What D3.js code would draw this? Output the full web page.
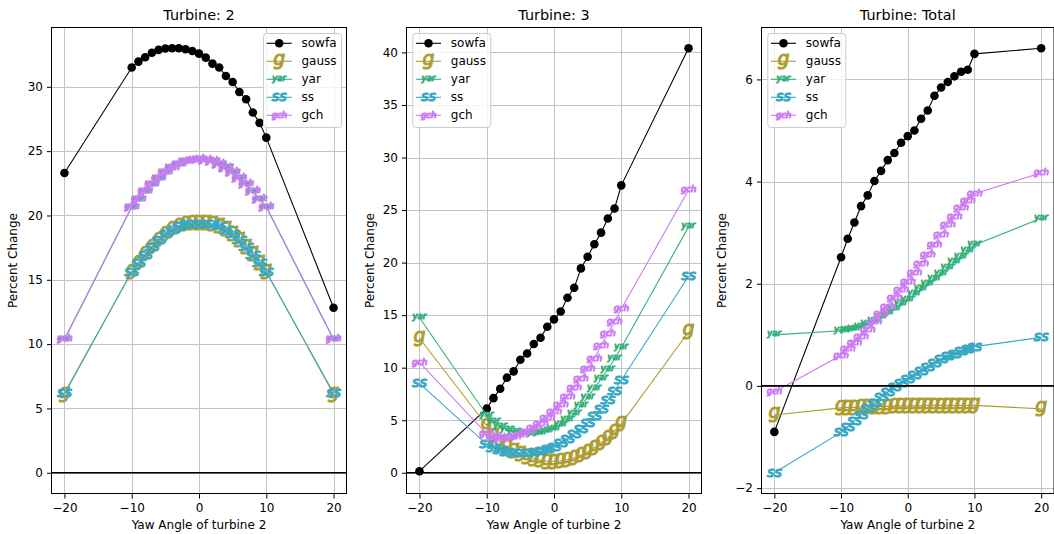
<!DOCTYPE html>
<html><head><meta charset="utf-8">
<script src="https://cdn.jsdelivr.net/npm/d3@7"></script>
<style>
body{margin:0;background:#fff;}
svg{display:block;font-family:"DejaVu Sans",sans-serif;}
</style></head><body>
<svg id="chart" width="1054" height="534"></svg>
<script>
// ---------- data ----------
const yawAngles = [-20, -10, -9, -8, -7, -6, -5, -4, -3, -2, -1, 0, 1, 2, 3, 4, 5, 6, 7, 8, 9, 10, 20];
const seriesNames = ["sowfa", "gauss", "yar", "ss", "gch"];
const markerGlyphs = {gauss: "g", yar: "yar", ss: "ss", gch: "gch"};
const seriesColors = {sowfa: "#000000", gauss: "#ae9d31", yar: "#33b07a", ss: "#38a9c5", gch: "#cc7af4"};

const turbine2Sowfa = [23.3, 31.5, 31.96, 32.3, 32.65, 32.87, 32.98, 33.0, 33.0, 32.92, 32.79, 32.58, 32.27, 31.8, 31.5, 30.84, 30.37, 29.6, 29.03, 28.0, 27.2, 26.05, 12.83];
const turbine2Gauss = [6.1, 15.65, 16.35, 17.0, 17.6, 18.15, 18.6, 18.95, 19.2, 19.35, 19.45, 19.45, 19.45, 19.35, 19.2, 18.95, 18.6, 18.15, 17.6, 17.0, 16.35, 15.65, 6.1];
const turbine2Yar = [10.35, 20.65, 21.25, 21.85, 22.4, 22.9, 23.35, 23.7, 24.0, 24.2, 24.3, 24.35, 24.3, 24.2, 24.0, 23.7, 23.35, 22.9, 22.4, 21.85, 21.25, 20.65, 10.35];
const turbine2Ss = [6.2, 15.6, 16.3, 16.95, 17.55, 18.1, 18.55, 18.9, 19.15, 19.3, 19.35, 19.35, 19.35, 19.3, 19.15, 18.9, 18.55, 18.1, 17.55, 16.95, 16.3, 15.6, 6.2];
const turbine2Gch = [10.4, 20.7, 21.3, 21.9, 22.45, 22.95, 23.4, 23.75, 24.05, 24.25, 24.35, 24.4, 24.35, 24.25, 24.05, 23.75, 23.4, 22.95, 22.45, 21.9, 21.3, 20.7, 10.4];

const turbine3Sowfa = [0.15, 6.1, 7.1, 8.0, 9.05, 9.65, 10.75, 11.35, 12.25, 12.85, 13.9, 14.6, 15.35, 16.65, 17.6, 19.45, 20.55, 21.75, 22.85, 24.2, 25.15, 27.35, 40.4];
const turbine3Gauss = [12.8, 4.5, 3.55, 2.9, 2.45, 2.1, 1.8, 1.55, 1.35, 1.2, 1.1, 1.1, 1.15, 1.25, 1.45, 1.7, 2.0, 2.4, 2.85, 3.35, 3.95, 4.65, 13.4];
const turbine3Yar = [14.75, 5.5, 4.9, 4.45, 4.1, 3.9, 3.75, 3.7, 3.7, 3.8, 4.0, 4.25, 4.6, 5.05, 5.65, 6.4, 7.2, 8.05, 8.95, 9.85, 10.85, 11.9, 23.4];
const turbine3Ss = [8.5, 2.7, 2.4, 2.15, 2.0, 1.9, 1.9, 1.9, 1.95, 2.05, 2.25, 2.5, 2.8, 3.2, 3.65, 4.15, 4.75, 5.4, 6.1, 6.9, 7.8, 8.8, 18.7];
const turbine3Gch = [10.5, 3.7, 3.4, 3.3, 3.3, 3.4, 3.6, 3.9, 4.3, 4.7, 5.2, 5.8, 6.45, 7.25, 8.1, 9.0, 9.9, 10.9, 12.1, 13.25, 14.4, 15.6, 26.9];

const totalSowfa = [-0.9, 2.52, 2.88, 3.2, 3.52, 3.73, 4.01, 4.21, 4.42, 4.56, 4.76, 4.89, 5.0, 5.23, 5.39, 5.68, 5.84, 5.95, 6.06, 6.15, 6.19, 6.5, 6.61];
const totalGauss = [-0.57, -0.43, -0.42, -0.42, -0.41, -0.41, -0.4, -0.4, -0.4, -0.39, -0.39, -0.39, -0.39, -0.39, -0.38, -0.38, -0.38, -0.38, -0.38, -0.38, -0.38, -0.38, -0.45];
const totalYar = [1.0, 1.08, 1.1, 1.13, 1.17, 1.22, 1.28, 1.35, 1.43, 1.52, 1.61, 1.7, 1.8, 1.9, 2.0, 2.1, 2.21, 2.32, 2.43, 2.54, 2.65, 2.76, 3.28];
const totalSs = [-1.7, -0.91, -0.8, -0.68, -0.56, -0.44, -0.33, -0.22, -0.12, -0.02, 0.06, 0.14, 0.22, 0.3, 0.38, 0.45, 0.52, 0.58, 0.63, 0.68, 0.73, 0.77, 0.95];
const totalGch = [-0.12, 0.6, 0.72, 0.84, 0.97, 1.1, 1.26, 1.41, 1.56, 1.72, 1.88, 2.04, 2.22, 2.39, 2.56, 2.76, 2.97, 3.15, 3.32, 3.48, 3.63, 3.76, 4.17];

const panelTitles = ["Turbine: 2", "Turbine: 3", "Turbine: Total"];
const xTickValues = [-20, -10, 0, 10, 20];
const turbine2YTicks = [0, 5, 10, 15, 20, 25, 30];
const turbine3YTicks = [0, 5, 10, 15, 20, 25, 30, 35, 40];
const totalYTicks = [-2, 0, 2, 4, 6];
const xAxisLabel = "Yaw Angle of turbine 2";
const yAxisLabel = "Percent Change";

// ---------- layout ----------
const svg = d3.select("#chart");
const TOP = 27, BOTTOM = 494;
const MARKER_SIZE = 14.5;

const panels = [
  {title: panelTitles[0], left: 51, width: 296, yTicks: turbine2YTicks, legend: "right",
   series: {sowfa: turbine2Sowfa, gauss: turbine2Gauss, yar: turbine2Yar, ss: turbine2Ss, gch: turbine2Gch}},
  {title: panelTitles[1], left: 406, width: 296, yTicks: turbine3YTicks, legend: "left",
   series: {sowfa: turbine3Sowfa, gauss: turbine3Gauss, yar: turbine3Yar, ss: turbine3Ss, gch: turbine3Gch}},
  {title: panelTitles[2], left: 761, width: 293.5, yTicks: totalYTicks, legend: "left",
   series: {sowfa: totalSowfa, gauss: totalGauss, yar: totalYar, ss: totalSs, gch: totalGch}}
];

// glyph metrics for text markers (matplotlib style: max ink dimension = marker size, centred on point)
const ctx = document.createElement("canvas").getContext("2d");
ctx.font = "italic 100px 'DejaVu Sans'";
const glyphInfo = {};
Object.entries(markerGlyphs).forEach(([k, s]) => {
  const m = ctx.measureText(s);
  const w = m.actualBoundingBoxLeft + m.actualBoundingBoxRight;
  const h = m.actualBoundingBoxAscent + m.actualBoundingBoxDescent;
  const size = MARKER_SIZE / Math.max(w, h) * 100;
  const f = size / 100;
  glyphInfo[k] = {text: s, size,
    dx: -((m.actualBoundingBoxRight - m.actualBoundingBoxLeft) / 2) * f,
    dy: ((m.actualBoundingBoxAscent - m.actualBoundingBoxDescent) / 2) * f};
});

function drawMarker(g, name, px, py) {
  if (name === "sowfa") {
    g.append("circle").attr("cx", px).attr("cy", py).attr("r", 4.3).attr("fill", "#000");
  } else {
    const gi = glyphInfo[name];
    g.append("text").attr("x", px + gi.dx).attr("y", py + gi.dy)
      .attr("font-size", gi.size).attr("font-style", "italic")
      .attr("font-family", "'DejaVu Sans'")
      .attr("fill", seriesColors[name]).attr("stroke", seriesColors[name])
      .attr("stroke-width", 1.1).attr("stroke-linejoin", "round").text(gi.text);
  }
}

const fmt = d3.format("d");

panels.forEach((p, i) => {
  const allVals = [0].concat(...seriesNames.map(n => p.series[n]));
  const [lo, hi] = d3.extent(allVals);
  const pad = (hi - lo) * 0.05;
  const x = d3.scaleLinear().domain([-22, 22]).range([p.left, p.left + p.width]);
  const y = d3.scaleLinear().domain([lo - pad, hi + pad]).range([BOTTOM, TOP]);
  const g = svg.append("g");

  const clipId = "clip" + i;
  svg.append("clipPath").attr("id", clipId).append("rect")
    .attr("x", p.left).attr("y", TOP).attr("width", p.width).attr("height", BOTTOM - TOP);

  // grid
  const grid = g.append("g").attr("stroke", "#c4c4c4").attr("stroke-width", 1);
  xTickValues.forEach(v => {
    const xx = Math.round(x(v)) + 0.5;
    grid.append("line").attr("x1", xx).attr("x2", xx).attr("y1", TOP).attr("y2", BOTTOM);
  });
  p.yTicks.forEach(v => {
    const yy = Math.round(y(v)) + 0.5;
    grid.append("line").attr("x1", p.left).attr("x2", p.left + p.width).attr("y1", yy).attr("y2", yy);
  });

  // data
  const plot = g.append("g").attr("clip-path", `url(#${clipId})`);
  const line = d3.line().x((d, j) => x(yawAngles[j])).y(d => y(d));
  seriesNames.forEach(n => {
    const vals = p.series[n];
    const sg = plot.append("g");
    sg.append("path").attr("d", line(vals)).attr("fill", "none")
      .attr("stroke", seriesColors[n]).attr("stroke-width", 1.1);
    vals.forEach((v, j) => drawMarker(sg, n, x(yawAngles[j]), y(v)));
  });
  // zero line
  plot.append("line").attr("x1", p.left).attr("x2", p.left + p.width)
    .attr("y1", y(0)).attr("y2", y(0)).attr("stroke", "#000").attr("stroke-width", 1.6);

  // axes
  const xAxis = d3.axisBottom(x).tickValues(xTickValues).tickSizeInner(4.5).tickSizeOuter(0).tickPadding(4.5).tickFormat(fmt);
  const xa = g.append("g").attr("transform", `translate(0,${BOTTOM})`).call(xAxis);
  const yAxis = d3.axisLeft(y).tickValues(p.yTicks).tickSizeInner(4).tickSizeOuter(0).tickPadding(4).tickFormat(fmt);
  const ya = g.append("g").attr("transform", `translate(${p.left},0)`).call(yAxis);
  [xa, ya].forEach(a => {
    a.select(".domain").remove();
    a.selectAll("text").attr("font-size", 12).attr("font-family", "'DejaVu Sans'").attr("fill", "#000");
    a.selectAll("line").attr("stroke", "#000");
  });

  // spines
  g.append("rect").attr("x", p.left + 0.5).attr("y", TOP + 0.5)
    .attr("width", p.width - 1).attr("height", BOTTOM - TOP - 1)
    .attr("fill", "none").attr("stroke", "#000").attr("stroke-width", 1);

  // title & labels
  const cx = p.left + p.width / 2;
  g.append("text").attr("x", cx).attr("y", 20).attr("text-anchor", "middle")
    .attr("font-size", 14.4).attr("fill", "#000").text(p.title);
  g.append("text").attr("x", cx).attr("y", 529).attr("text-anchor", "middle")
    .attr("font-size", 12).attr("fill", "#000").text(xAxisLabel);
  const ylx = [13, 370, 722][i];
  g.append("text").attr("transform", `translate(${ylx + 4},${(TOP + BOTTOM) / 2}) rotate(-90)`)
    .attr("text-anchor", "middle").attr("font-size", 12).attr("fill", "#000").text(yAxisLabel);

  // legend
  const boxW = 78, boxH = 94;
  const bx = p.legend === "right" ? p.left + p.width - 6 - boxW : p.left + 6.3;
  const by = TOP + 6;
  const lg = g.append("g");
  lg.append("rect").attr("x", bx + 0.5).attr("y", by + 0.5).attr("width", boxW).attr("height", boxH)
    .attr("rx", 3).attr("fill", "#fff").attr("fill-opacity", 0.8)
    .attr("stroke", "#cccccc").attr("stroke-width", 1);
  seriesNames.forEach((n, k) => {
    const ry = by + 10.3 + k * 18;
    lg.append("line").attr("x1", bx + 3.7).attr("x2", bx + 28.7).attr("y1", ry).attr("y2", ry)
      .attr("stroke", seriesColors[n]).attr("stroke-width", 1.1);
    drawMarker(lg, n, bx + 16.2, ry);
    lg.append("text").attr("x", bx + 38.5).attr("y", ry).attr("dy", "0.33em")
      .attr("font-size", 12).attr("fill", "#000").text(n);
  });
});
</script>
</body></html>
